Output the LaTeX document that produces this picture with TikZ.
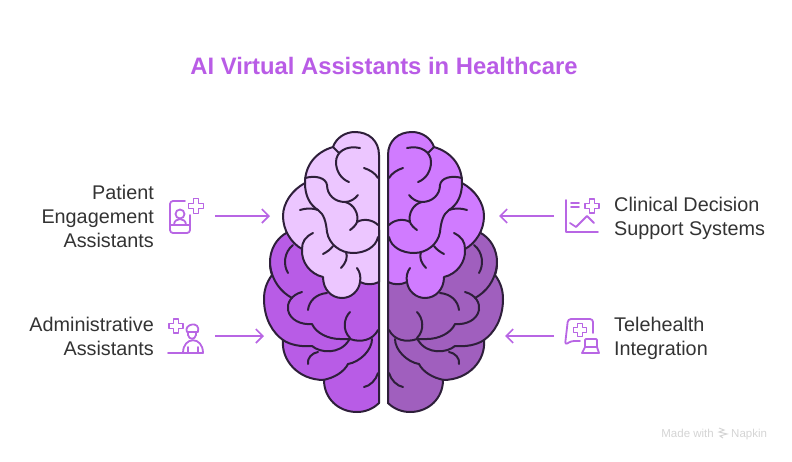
\documentclass[tikz,border=0pt]{standalone}
\usepackage{fontspec}
\setmainfont{Liberation Sans}
\usepackage{tikz}
\usetikzlibrary{arrows.meta}
\definecolor{vtitle}{HTML}{B95CE6}
\definecolor{vtext}{HTML}{333333}
\definecolor{vmark}{HTML}{D4D4D4}
\definecolor{vline}{HTML}{2E1F3A}
\definecolor{vicon}{HTML}{B866E4}
\definecolor{lpale}{HTML}{ECC6FF}
\definecolor{lmid}{HTML}{B85CE6}
\definecolor{rpale}{HTML}{D07BFF}
\definecolor{rmid}{HTML}{A05FBE}
\tikzset{
  lefttext/.style={align=right,anchor=east,inner sep=0pt,text=vtext,text depth=0pt,font=\fontsize{19.8}{24}\selectfont},
  righttext/.style={align=left,anchor=west,inner sep=0pt,text=vtext,text depth=0pt,font=\fontsize{19.8}{24}\selectfont},
  marktext/.style={inner sep=0pt,text=vmark,font=\fontsize{11.5}{13}\selectfont},
  iconline/.style={draw=vicon,line width=1.8pt,line join=round,line cap=round},
  pointer/.style={draw=vicon,line width=1.6pt,-{Straight Barb[length=7pt,width=14pt,line width=1.6pt]}},
  fold/.style={draw=vline,line width=2pt,line cap=round,line join=round},
}
% plus sign of the icons
\newcommand{\iconplus}[3]{%
  \draw[iconline,shift={(#1,#2)}] (-#3,-2.5) -- (-2.5,-2.5) -- (-2.5,-#3) -- (2.5,-#3) -- (2.5,-2.5) -- (#3,-2.5)
    -- (#3,2.5) -- (2.5,2.5) -- (2.5,#3) -- (-2.5,#3) -- (-2.5,2.5) -- (-#3,2.5) -- cycle;
}
% one half of the brain, left side coordinates
\newcommand{\halfbrain}[2]{%
  % lower part
  \path[fold,fill=#2] (288,232) .. controls (276,238) and (270,250) .. (270,262) .. controls (270,266) and (270.5,271) .. (272,275)
    .. controls (266,283) and (264,291) .. (264,299) .. controls (264,319) and (273,333) .. (283,340)
    .. controls (281,360) and (298,380) .. (324,380)
    .. controls (324,398) and (338,412) .. (357,412) .. controls (365,412) and (373,409) .. (379,403)
    -- (379,230) -- cycle;
  \draw[fold] (293,245) .. controls (284,252) and (283,265) .. (288,273);
  \draw[fold] (270,265) .. controls (272,281) and (281,292) .. (292,298);
  \draw[fold] (302,292) .. controls (291,295) and (287,303) .. (288,310) .. controls (290,320) and (301,325) .. (312,324)
    .. controls (316,333) and (328,339) .. (340,339) -- (350,339);
  \draw[fold] (350,339) .. controls (361,343) and (373,340) .. (378,330);
  \draw[fold] (350,312) .. controls (344,318) and (342,330) .. (350,338);
  \draw[fold] (372,339) .. controls (372,350) and (360,362) .. (348,364) .. controls (344,372) and (334,378) .. (323,380);
  \draw[fold] (308,310) .. controls (309,301) and (316,294) .. (327,293);
  \draw[fold] (283,340) .. controls (290,345) and (302,347) .. (312,346) .. controls (320,353) and (340,355) .. (349,340);
  \draw[fold] (308,364) .. controls (307,358) and (312,353) .. (318,352);
  \draw[fold] (364,387) .. controls (370,386) and (376,380) .. (378,373);
  % upper part
  \path[fold,fill=#1] (379,155) .. controls (379,141) and (369,132) .. (355,132) .. controls (345,132) and (336,138) .. (333,147)
    .. controls (316,152) and (305,165) .. (305,183)
    .. controls (292,190) and (283,203) .. (283,216) .. controls (283,230) and (291,243) .. (302,249)
    .. controls (301,262) and (310,274) .. (323,277)
    .. controls (323,289) and (331,298) .. (342,298) .. controls (351,298) and (359,291) .. (360,282)
    .. controls (366,285) and (373,285) .. (379,282)
    -- cycle;
  \draw[fold] (333,147) -- (339,153);
  \draw[fold] (360,148) .. controls (346,145) and (336,152) .. (336,162) .. controls (336,171) and (341,179) .. (349,182);
  \draw[fold] (364,168) .. controls (370,170) and (375,173) .. (378,178);
  \draw[fold] (305,178) .. controls (316,175) and (326,178) .. (327,185) .. controls (327,195) and (335,202) .. (345,202)
    .. controls (350,202) and (355,199) .. (358,195);
  \draw[fold] (345,202) .. controls (354,204) and (359,214) .. (357,222) .. controls (356,225) and (353,228) .. (350,230);
  \draw[fold] (357,222) .. controls (364,218) and (373,220) .. (378,225);
  \draw[fold] (305,183) .. controls (305,196) and (310,205) .. (318,210) .. controls (324,214) and (326,222) .. (327,232)
    .. controls (329,244) and (340,253) .. (353,253) .. controls (365,253) and (376,247) .. (378,237);
  \draw[fold] (300,210) .. controls (306,208) and (313,208) .. (318,210);
  \draw[fold] (313,233) .. controls (305,237) and (302,242) .. (302,249);
  \draw[fold] (323,254) .. controls (327,252) and (331,249) .. (333,246);
  \draw[fold] (341,268) .. controls (346,263) and (348,257) .. (346,252);
  \draw[fold] (357,268) .. controls (360,272) and (361,277) .. (360,282);
  \draw[fold] (379,155) -- (379,403);
}
\begin{document}
\begin{tikzpicture}[x=1pt,y=-1pt]
\useasboundingbox (0,0) rectangle (792,461);

\draw (384,66) node[inner sep=0pt,text=vtitle,font=\fontsize{23.8}{28}\bfseries\selectfont] (title) {AI Virtual Assistants in Healthcare};

\halfbrain{lpale}{lmid}
\begin{scope}[xshift=767pt,xscale=-1]
\halfbrain{rpale}{rmid}
\end{scope}

\draw (154,216) node[lefttext] (patient) {Patient\\Engagement\\Assistants};
\draw (154,336) node[lefttext] (admin) {Administrative\\Assistants};
\draw (614,216) node[righttext] (clinical) {Clinical Decision\\Support Systems};
\draw (614,336) node[righttext] (tele) {Telehealth\\Integration};

\node[shape=coordinate] (patientfrom) at (215,216) {};
\node[shape=coordinate] (patientto) at (270,216) {};
\node[shape=coordinate] (adminfrom) at (215,336) {};
\node[shape=coordinate] (adminto) at (264,336) {};
\node[shape=coordinate] (clinicalfrom) at (554,216) {};
\node[shape=coordinate] (clinicalto) at (499,216) {};
\node[shape=coordinate] (telefrom) at (554,336) {};
\node[shape=coordinate] (teleto) at (505,336) {};

\draw[pointer] (patientfrom) -- (patientto);
\draw[pointer] (adminfrom) -- (adminto);
\draw[pointer] (clinicalfrom) -- (clinicalto);
\draw[pointer] (telefrom) -- (teleto);

% patient icon
\draw[iconline,rounded corners=3pt] (185,201) -- (170,201) -- (170,233) -- (190,233) -- (190,215);
\draw[iconline] (170,225) -- (190,225);
\draw[iconline] (180,214) circle (4.5);
\draw[iconline] (174,225) .. controls (174,217) and (186,217) .. (186,225);
\iconplus{196}{206}{7.5}

% admin icon
\iconplus{176}{326}{7}
\draw[iconline] (168,353) -- (203,353);
\draw[iconline] (183,353) .. controls (183,336) and (203,336) .. (203,353);
\draw[iconline] (188,353) -- (188,347);
\draw[iconline] (198,353) -- (198,347);
\draw[iconline] (187,332) .. controls (183,324) and (201,320) .. (198,332) -- cycle;
\draw[iconline] (188,332) -- (188,335) .. controls (189,340) and (195,340) .. (196,335) -- (196,332);

% clinical icon
\draw[iconline] (566,200) -- (566,232) -- (598,232);
\draw[iconline] (571,203) -- (579,203);
\draw[iconline] (571,207) -- (579,207);
\iconplus{592}{206}{7}
\draw[iconline] (570,223) -- (576,227) -- (587,216) -- (594,223);

% telehealth icon
\draw[iconline,rounded corners=3pt] (593,333) -- (593,319) -- (568,319) -- (565,345) -- (571,341) -- (580,341);
\iconplus{580}{330}{6.5}
\draw[iconline,rounded corners=1pt] (585,347) -- (585,339) -- (597,339) -- (597,347);
\draw[iconline] (585,347) -- (597,347) -- (599,353) -- (582,353) -- cycle;

% watermark
\node[marktext,anchor=base east] (made) at (714,437) {Made with};
\node[marktext,anchor=base west] (napkin) at (731,437) {Napkin};
\draw[draw=vmark,line width=1pt] (719,428) -- (724,430) -- (719,432) -- (727,434) -- (720,436) -- (723,438);
\end{tikzpicture}
\end{document}
